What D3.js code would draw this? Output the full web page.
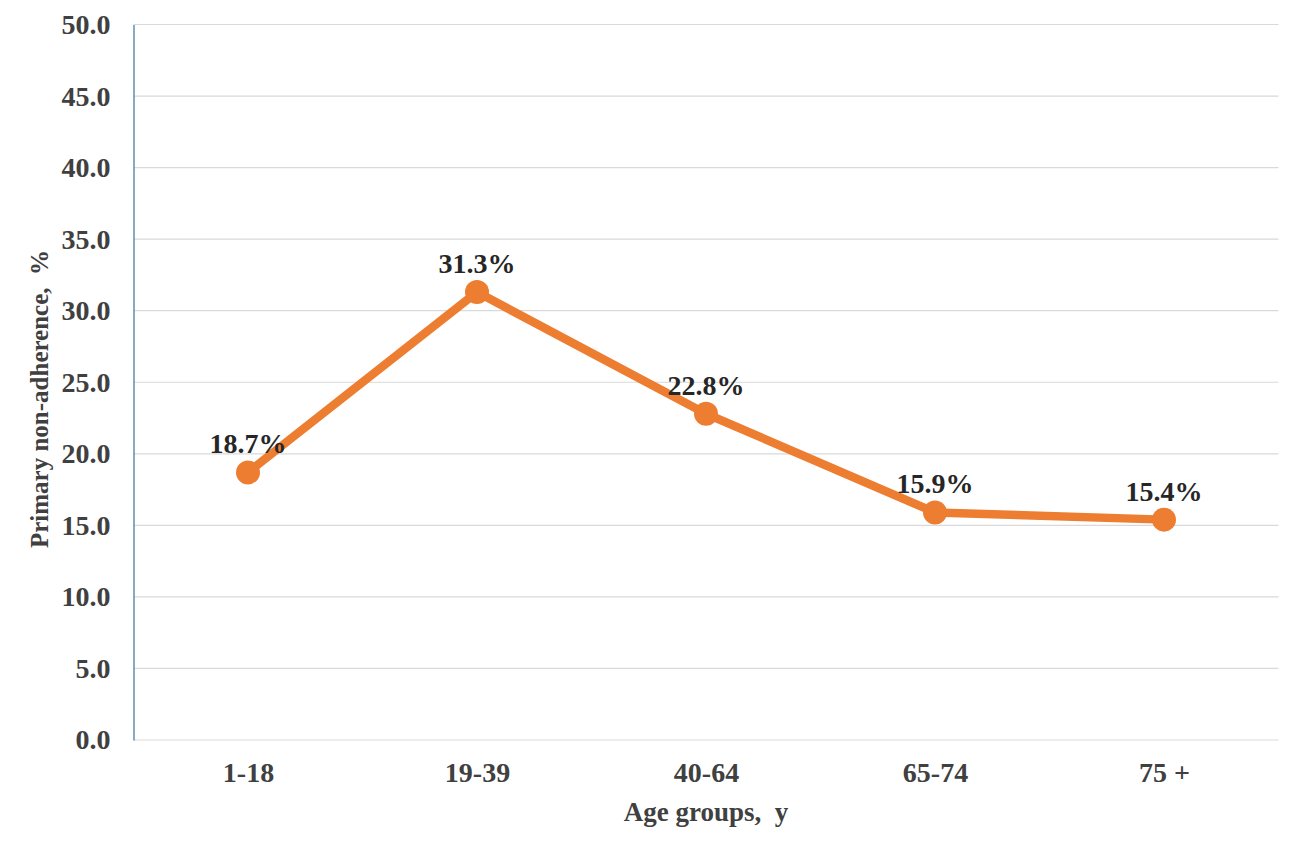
<!DOCTYPE html>
<html>
<head>
<meta charset="utf-8">
<script src="https://cdn.jsdelivr.net/npm/d3@7"></script>
<style>
  body { margin: 0; background: #fff; }
  text { font-family: "Liberation Serif", "Times New Roman", serif; font-weight: bold; }
</style>
</head>
<body>
<svg id="chart" width="1299" height="849"></svg>
<script>
var categories = ["1-18", "19-39", "40-64", "65-74", "75 +"];
var values = [18.7, 31.3, 22.8, 15.9, 15.4];
var yTicks = [0, 5, 10, 15, 20, 25, 30, 35, 40, 45, 50];

var margin = { left: 133.5, right: 20.5, top: 24.5, bottom: 109 },
    width = 1299 - margin.left - margin.right,
    height = 849 - margin.top - margin.bottom;

var svg = d3.select("#chart");
var g = svg.append("g").attr("transform", "translate(" + margin.left + "," + margin.top + ")");

var x = d3.scalePoint().domain(categories).range([0, width]).padding(0.5);
var y = d3.scaleLinear().domain([0, 50]).range([height, 0]);

// gridlines
g.selectAll(".grid").data(yTicks).enter().append("line")
    .attr("x1", 0).attr("x2", width)
    .attr("y1", d => y(d)).attr("y2", d => y(d))
    .attr("stroke", "#d9d9d9").attr("stroke-width", 1.2);

// y axis
var yAxis = g.append("g").call(d3.axisLeft(y).tickValues(yTicks).tickFormat(d3.format(".1f")).tickSize(0).tickPadding(23));
yAxis.select(".domain").attr("stroke", "#5f8fb5").attr("stroke-width", 1.5);
yAxis.selectAll("text").attr("font-size", 28).attr("fill", "#404040");

// x axis
var xAxis = g.append("g").attr("transform", "translate(0," + height + ")")
    .call(d3.axisBottom(x).tickSize(0).tickPadding(22));
xAxis.select(".domain").remove();
xAxis.selectAll("text").attr("font-size", 28).attr("fill", "#404040");

// line
var line = d3.line().x((d, i) => x(categories[i])).y(d => y(d));
g.append("path").datum(values)
    .attr("d", line)
    .attr("fill", "none")
    .attr("stroke", "#ed7d31")
    .attr("stroke-width", 8.5)
    .attr("stroke-linejoin", "round");

g.selectAll(".dot").data(values).enter().append("circle")
    .attr("cx", (d, i) => x(categories[i]))
    .attr("cy", d => y(d))
    .attr("r", 12)
    .attr("fill", "#ed7d31");

g.selectAll(".lbl").data(values).enter().append("text")
    .attr("x", (d, i) => x(categories[i]))
    .attr("y", d => y(d) - 19)
    .attr("text-anchor", "middle")
    .attr("font-size", 28)
    .attr("fill", "#262626")
    .text(d => d.toFixed(1) + "%");

// axis titles
svg.append("text")
    .attr("x", margin.left + width / 2)
    .attr("y", 821)
    .attr("text-anchor", "middle")
    .attr("font-size", 27)
    .attr("fill", "#404040")
    .attr("xml:space", "preserve")
    .text("Age groups,  y");

svg.append("text")
    .attr("transform", "translate(48,399) rotate(-90)")
    .attr("text-anchor", "middle")
    .attr("font-size", 25)
    .attr("fill", "#404040")
    .attr("xml:space", "preserve")
    .text("Primary non-adherence,  %");
</script>
</body>
</html>
